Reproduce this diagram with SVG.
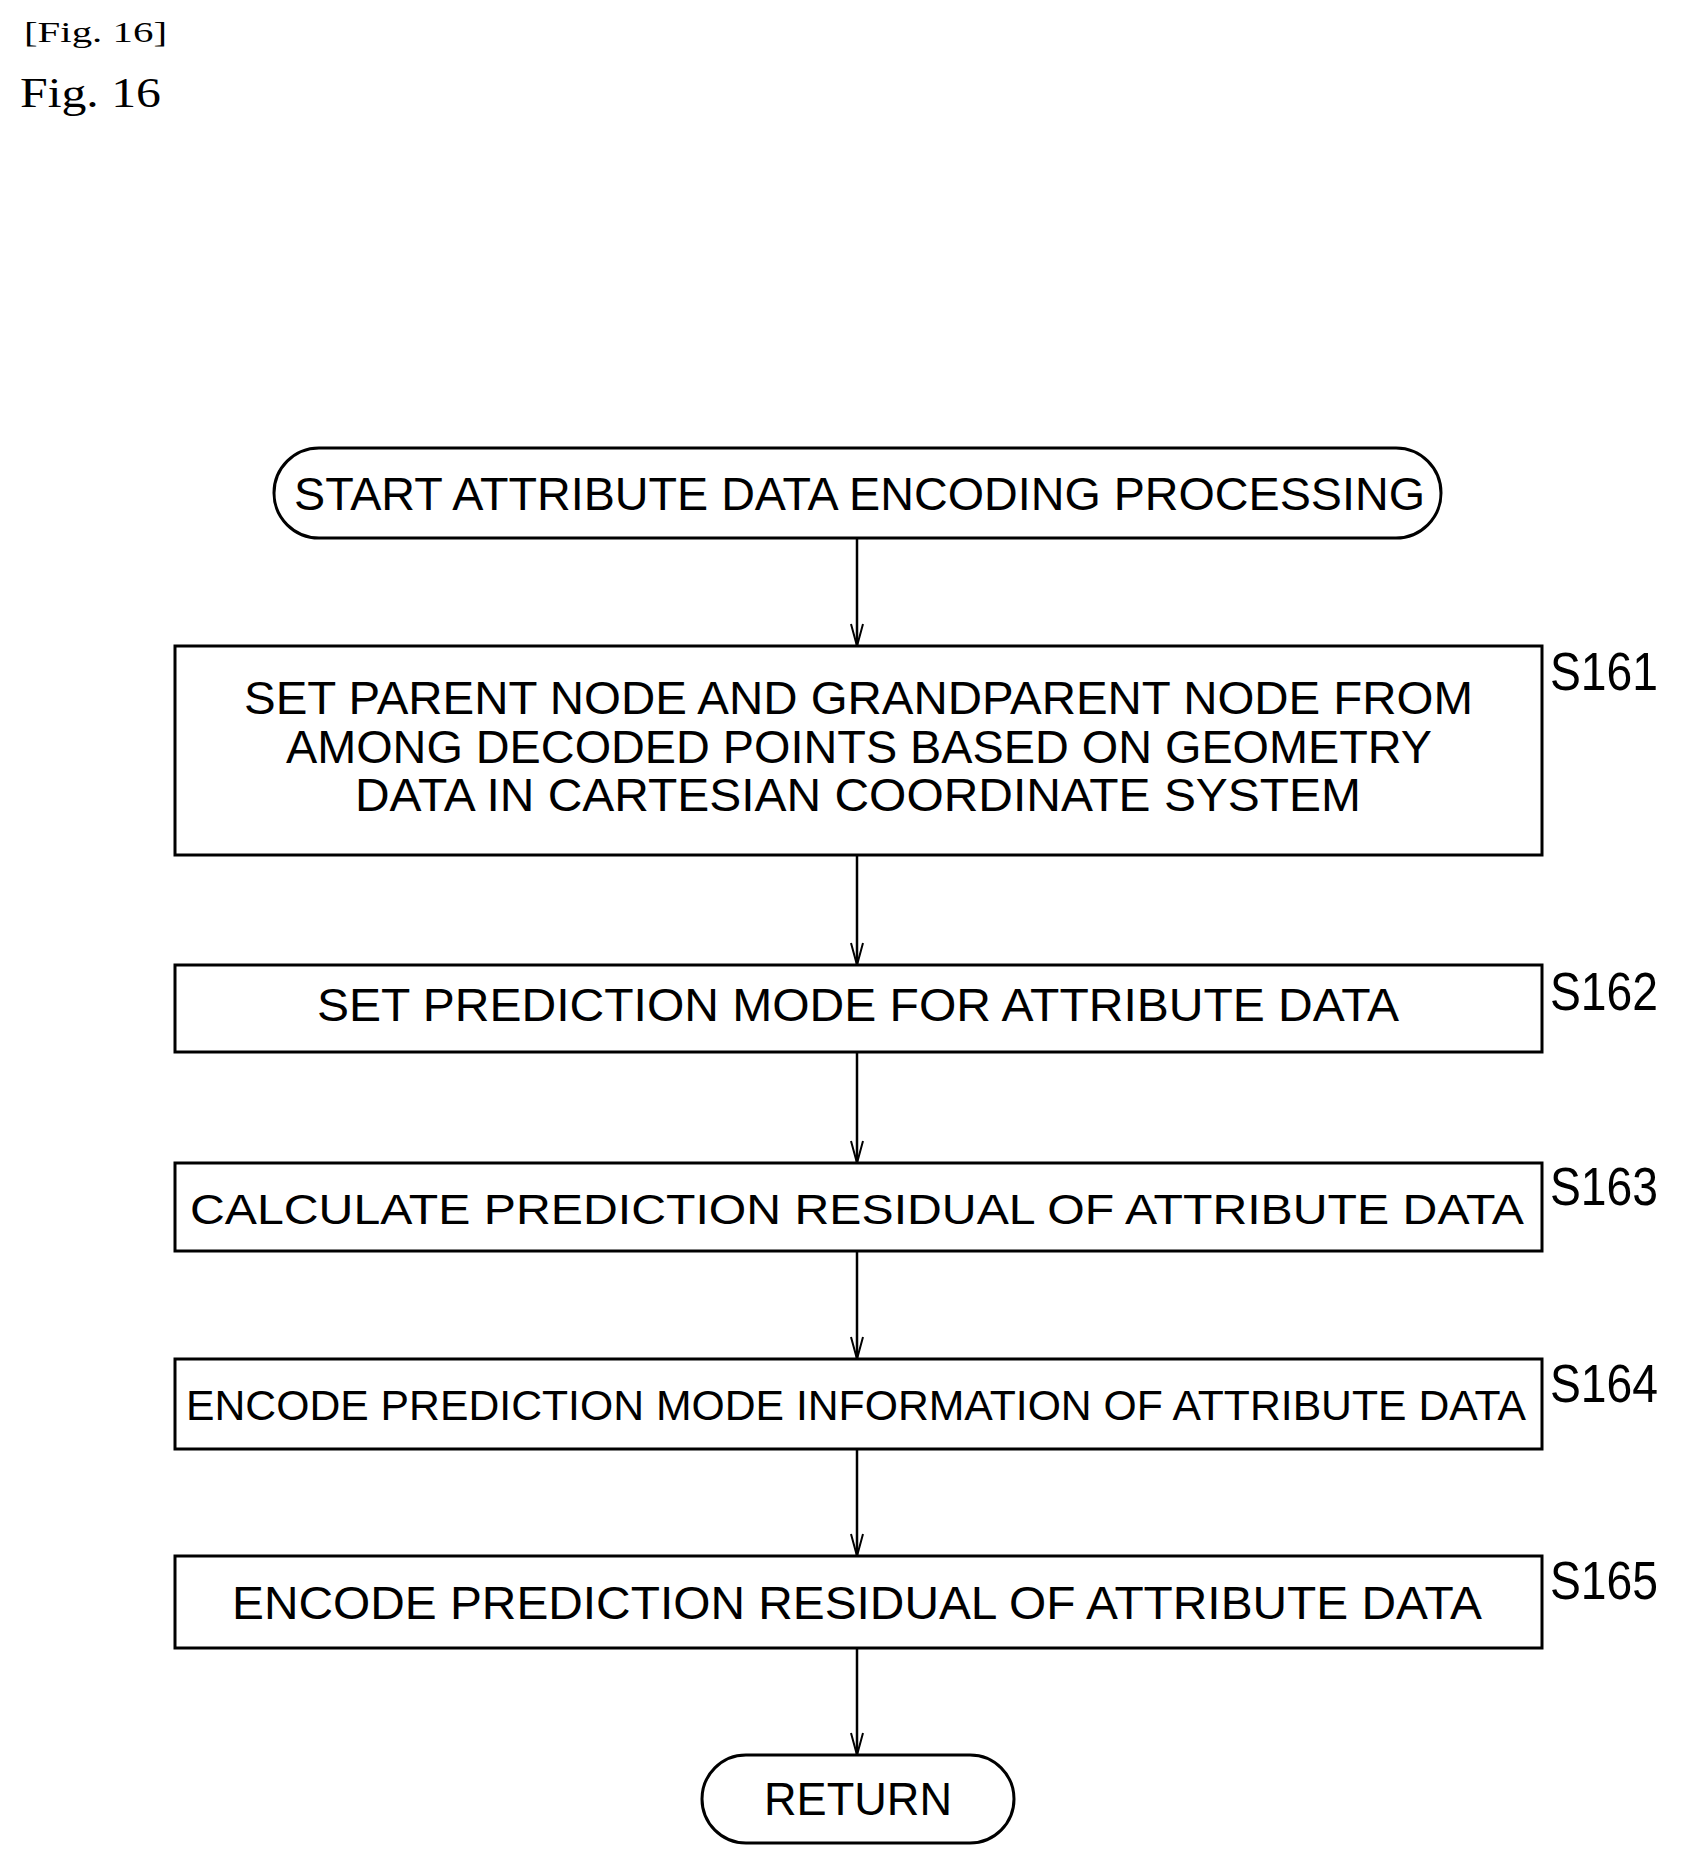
<svg xmlns="http://www.w3.org/2000/svg" width="1681" height="1864" viewBox="0 0 1681 1864">
<style>
.b{fill:#fff;stroke:#000;stroke-width:3}
.t{font-family:"Liberation Sans",Arial,sans-serif;font-size:46px;fill:#000}
.s{font-size:42px}
.l{font-family:"Liberation Sans",Arial,sans-serif;font-size:54px;fill:#000}
.f{font-family:"Liberation Serif","Times New Roman",serif;fill:#000}
.c line{stroke:#000;stroke-width:2.5}
</style>
<defs><marker id="a" markerWidth="14" markerHeight="24" refX="7" refY="23" orient="0" markerUnits="userSpaceOnUse"><path d="M1,1 L7,23 L13,1" fill="none" stroke="#000" stroke-width="2"/></marker></defs>
<rect width="1681" height="1864" fill="#fff"/>
<text class="f" x="24" y="42" font-size="30" textLength="143" lengthAdjust="spacingAndGlyphs">[Fig. 16]</text>
<text class="f" x="20" y="107" font-size="42" textLength="141" lengthAdjust="spacingAndGlyphs">Fig. 16</text>
<g class="c">
<line x1="857" y1="538" x2="857" y2="646" marker-end="url(#a)"/>
<line x1="857" y1="855" x2="857" y2="965" marker-end="url(#a)"/>
<line x1="857" y1="1052" x2="857" y2="1163" marker-end="url(#a)"/>
<line x1="857" y1="1251" x2="857" y2="1359" marker-end="url(#a)"/>
<line x1="857" y1="1449" x2="857" y2="1556" marker-end="url(#a)"/>
<line x1="857" y1="1648" x2="857" y2="1755" marker-end="url(#a)"/>
</g>
<g id="start"><rect class="b" x="274" y="448" width="1167" height="90" rx="45"/><text class="t" x="294" y="510" textLength="1131" lengthAdjust="spacingAndGlyphs">START ATTRIBUTE DATA ENCODING PROCESSING</text></g>
<g id="s161"><rect class="b" x="175" y="646" width="1367" height="209"/>
<text class="t" x="244" y="714" textLength="1229" lengthAdjust="spacingAndGlyphs">SET PARENT NODE AND GRANDPARENT NODE FROM</text>
<text class="t" x="286" y="763" textLength="1146" lengthAdjust="spacingAndGlyphs">AMONG DECODED POINTS BASED ON GEOMETRY</text>
<text class="t" x="355" y="811" textLength="1006" lengthAdjust="spacingAndGlyphs">DATA IN CARTESIAN COORDINATE SYSTEM</text>
<text class="l" x="1550" y="690" textLength="108" lengthAdjust="spacingAndGlyphs">S161</text></g>
<g id="s162"><rect class="b" x="175" y="965" width="1367" height="87"/><text class="t" x="317" y="1021" textLength="1082" lengthAdjust="spacingAndGlyphs">SET PREDICTION MODE FOR ATTRIBUTE DATA</text><text class="l" x="1550" y="1010" textLength="108" lengthAdjust="spacingAndGlyphs">S162</text></g>
<g id="s163"><rect class="b" x="175" y="1163" width="1367" height="88"/><text class="t s" x="190" y="1224" textLength="1334" lengthAdjust="spacingAndGlyphs">CALCULATE PREDICTION RESIDUAL OF ATTRIBUTE DATA</text><text class="l" x="1550" y="1205" textLength="108" lengthAdjust="spacingAndGlyphs">S163</text></g>
<g id="s164"><rect class="b" x="175" y="1359" width="1367" height="90"/><text class="t s" x="186" y="1420" textLength="1340" lengthAdjust="spacingAndGlyphs">ENCODE PREDICTION MODE INFORMATION OF ATTRIBUTE DATA</text><text class="l" x="1550" y="1402" textLength="108" lengthAdjust="spacingAndGlyphs">S164</text></g>
<g id="s165"><rect class="b" x="175" y="1556" width="1367" height="92"/><text class="t" x="232" y="1619" textLength="1250" lengthAdjust="spacingAndGlyphs">ENCODE PREDICTION RESIDUAL OF ATTRIBUTE DATA</text><text class="l" x="1550" y="1599" textLength="108" lengthAdjust="spacingAndGlyphs">S165</text></g>
<g id="ret"><rect class="b" x="702" y="1755" width="312" height="88" rx="44"/><text class="t" x="764" y="1815" textLength="188" lengthAdjust="spacingAndGlyphs">RETURN</text></g>
</svg>
